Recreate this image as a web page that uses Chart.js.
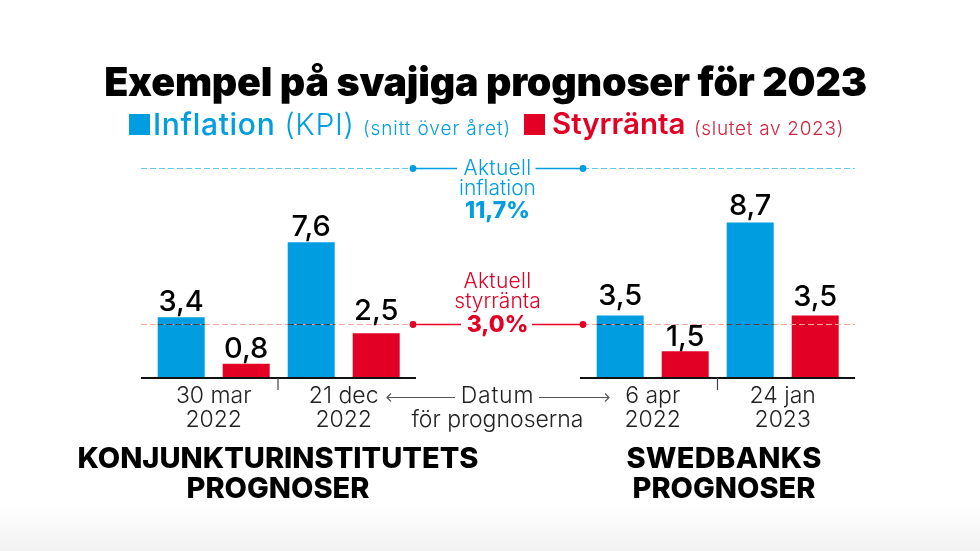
<!DOCTYPE html>
<html lang="sv">
<head>
<meta charset="utf-8">
<title>Exempel på svajiga prognoser för 2023</title>
<script src="https://cdn.jsdelivr.net/npm/chart.js@4"></script>
<style>
  html, body { margin: 0; padding: 0; }
  body { width: 980px; height: 551px; overflow: hidden; position: relative; font-family: Inter, sans-serif;
         background: linear-gradient(#fff 0, #fff 505px, #f2f2f2 551px); }
  canvas { position: absolute; top: 0; }
  .t { position: absolute; white-space: nowrap; line-height: 1; }
  .c { transform: translateX(-50%); text-align: center; }
  .sq { position: absolute; width: 21px; height: 21px; top: 114px; }
</style>
</head>
<body>
<canvas id="left" width="490" height="551" style="left:0"></canvas>
<canvas id="right" width="490" height="551" style="left:490px"></canvas>

<div class="t c" style="left:485.5px;top:63px;font-size:39.4px;font-weight:900;letter-spacing:-.2px;color:#000">Exempel på svajiga prognoser för 2023</div>

<div class="sq" style="left:129px;background:#009ee0"></div>
<div class="t" style="left:153px;top:109px;font-size:30px;font-weight:500;letter-spacing:.7px;color:#009ee0">Inflation <span style="font-weight:300">(KPI)</span></div>
<div class="t" style="left:363px;top:119px;font-size:19px;font-weight:300;letter-spacing:.9px;color:#009ee0">(snitt över året)</div>
<div class="sq" style="left:524px;background:#e20025"></div>
<div class="t" style="left:552px;top:109px;font-size:29.5px;font-weight:600;color:#e20025">Styrränta</div>
<div class="t" style="left:694px;top:119px;font-size:19px;font-weight:300;letter-spacing:.7px;color:#d0243f">(slutet av 2023)</div>

<div class="t c" style="left:497.5px;top:157px;font-size:21px;font-weight:300;letter-spacing:.3px;color:#009ee0">Aktuell</div>
<div class="t c" style="left:497.5px;top:177px;font-size:21px;font-weight:300;color:#009ee0">inflation</div>
<div class="t c" style="left:497.5px;top:199px;font-size:23px;font-weight:800;color:#009ee0">11,7%</div>
<div class="t c" style="left:497.5px;top:270px;font-size:21px;font-weight:300;letter-spacing:.3px;color:#e20025">Aktuell</div>
<div class="t c" style="left:497.5px;top:290px;font-size:21px;font-weight:300;color:#e20025">styrränta</div>
<div class="t c" style="left:497.5px;top:313px;font-size:23px;font-weight:800;color:#e20025">3,0%</div>

<div class="t c" style="left:497.5px;top:384px;font-size:23px;font-weight:300;letter-spacing:.8px;color:#222">Datum</div>
<div class="t c" style="left:497.5px;top:408px;font-size:23px;font-weight:300;color:#222">för prognoserna</div>

<div class="t c" style="left:278px;top:443px;font-size:29px;font-weight:800;color:#000">KONJUNKTURINSTITUTETS</div>
<div class="t c" style="left:278px;top:473px;font-size:29px;font-weight:800;color:#000">PROGNOSER</div>
<div class="t c" style="left:724px;top:443px;font-size:29px;font-weight:800;letter-spacing:.3px;color:#000">SWEDBANKS</div>
<div class="t c" style="left:724px;top:473px;font-size:29px;font-weight:800;color:#000">PROGNOSER</div>

<script>
// data
const seriesNames = ["Inflation", "Styrränta"];
const datesKI = [["30 mar", "2022"], ["21 dec", "2022"]];
const inflationKI = [3.4, 7.6];
const styrrantaKI = [0.8, 2.5];
const datesSwedbank = [["6 apr", "2022"], ["24 jan", "2023"]];
const inflationSwedbank = [3.5, 8.7];
const styrrantaSwedbank = [1.5, 3.5];
const aktuellInflation = 11.7;
const aktuellStyrranta = 3.0;

const BLUE = "#009ee0";
const RED = "#e20025";

const fmt = v => v.toFixed(1).replace(".", ",");

// value labels, reference lines, base line and date arrows
const decorations = {
  id: "decorations",
  afterDatasetsDraw(chart, args, o) {
    const ctx = chart.ctx;
    const off = chart.canvas.offsetLeft;
    const y = chart.scales.y;
    const base = y.getPixelForValue(0);
    ctx.save();

    // dashed lines with dot and solid connector to the middle text
    [[aktuellInflation, "#63c6ef", BLUE, o.blueEnd], [aktuellStyrranta, "#f6a69e", RED, o.redEnd]].forEach(r => {
      const py = Math.floor(y.getPixelForValue(r[0])) + 0.5;
      ctx.save();
      ctx.lineWidth = 1;
      ctx.setLineDash([6, 3]);
      ctx.strokeStyle = r[1];
      ctx.beginPath();
      ctx.moveTo(o.dashFrom - off, py);
      ctx.lineTo(o.dashTo - off, py);
      ctx.stroke();
      // the line shows dark where it crosses a blue bar
      ctx.strokeStyle = "rgba(30,30,50,.75)";
      chart.getDatasetMeta(0).data.forEach((bar, j) => {
        if (chart.data.datasets[0].data[j] > r[0]) {
          ctx.beginPath();
          ctx.moveTo(bar.x - bar.width / 2, py);
          ctx.lineTo(bar.x + bar.width / 2, py);
          ctx.stroke();
        }
      });
      ctx.restore();
      ctx.strokeStyle = r[2];
      ctx.lineWidth = 1.3;
      ctx.beginPath();
      ctx.moveTo(o.dotX - off, py);
      ctx.lineTo(r[3] - off, py);
      ctx.stroke();
      ctx.fillStyle = r[2];
      ctx.beginPath();
      ctx.arc(o.dotX - off, py, 3.4, 0, Math.PI * 2);
      ctx.fill();
    });

    // base line and tick between the two dates
    ctx.strokeStyle = "#111";
    ctx.lineWidth = 2;
    ctx.beginPath();
    ctx.moveTo(o.axisFrom - off, base);
    ctx.lineTo(o.axisTo - off, base);
    ctx.stroke();
    ctx.lineWidth = 1.2;
    ctx.strokeStyle = "#444";
    ctx.beginPath();
    ctx.moveTo(o.tickX - off, base);
    ctx.lineTo(o.tickX - off, base + 12);
    ctx.stroke();

    // arrow from "Datum" towards the dates
    const ay = 397.5;
    const dir = o.arrowTo < o.arrowFrom ? 1 : -1;
    ctx.strokeStyle = "#555";
    ctx.lineWidth = 1.2;
    ctx.beginPath();
    ctx.moveTo(o.arrowFrom - off, ay);
    ctx.lineTo(o.arrowTo - off, ay);
    ctx.moveTo(o.arrowTo - off + dir * 4, ay - 4);
    ctx.lineTo(o.arrowTo - off, ay);
    ctx.lineTo(o.arrowTo - off + dir * 4, ay + 4);
    ctx.stroke();

    // value labels above the bars
    ctx.font = "500 29px Inter";
    ctx.fillStyle = "#000";
    ctx.textAlign = "center";
    ctx.textBaseline = "alphabetic";
    chart.data.datasets.forEach((ds, i) => {
      chart.getDatasetMeta(i).data.forEach((bar, j) => {
        ctx.fillText(fmt(ds.data[j]), bar.x, bar.y - o.gaps[i][j]);
      });
    });
    ctx.restore();
  }
};

function makeChart(id, dates, inflation, styrranta, pad, deco) {
  return new Chart(document.getElementById(id), {
    type: "bar",
    data: {
      labels: dates,
      datasets: [
        { label: seriesNames[0], data: inflation, backgroundColor: BLUE },
        { label: seriesNames[1], data: styrranta, backgroundColor: RED }
      ]
    },
    options: {
      responsive: false,
      animation: false,
      devicePixelRatio: 1,
      layout: { padding: { left: pad.left, right: pad.right, top: 163.6, bottom: 113 } },
      categoryPercentage: 1,
      barPercentage: 0.723,
      plugins: {
        legend: { display: false },
        title: { display: false },
        tooltip: { enabled: false },
        decorations: deco
      },
      scales: {
        y: { display: false, min: 0, max: 12 },
        x: {
          afterFit: s => { s.height = 60; },
          grid: { display: false, drawTicks: false },
          border: { display: false },
          ticks: {
            maxRotation: 0,
            autoSkip: false,
            padding: 6,
            color: "#222",
            font: { family: "Inter", size: 23, weight: "300", lineHeight: 1.04 }
          }
        }
      }
    },
    plugins: [decorations]
  });
}

makeChart("left", datesKI, inflationKI, styrrantaKI, { left: 148.7, right: 81.3 }, {
  dashFrom: 141, dashTo: 413, dotX: 413, blueEnd: 457, redEnd: 461,
  axisFrom: 141, axisTo: 416, tickX: 278,
  arrowFrom: 455, arrowTo: 387,
  gaps: [[6, 6], [6, 13]]
});

makeChart("right", datesSwedbank, inflationSwedbank, styrrantaSwedbank, { left: 97.7, right: 132.3 }, {
  dashFrom: 583, dashTo: 855, dotX: 583, blueEnd: 535.5, redEnd: 532,
  axisFrom: 580, axisTo: 855, tickX: 717.5,
  arrowFrom: 539, arrowTo: 609,
  gaps: [[10, 8], [5, 9]]
});
</script>
</body>
</html>
